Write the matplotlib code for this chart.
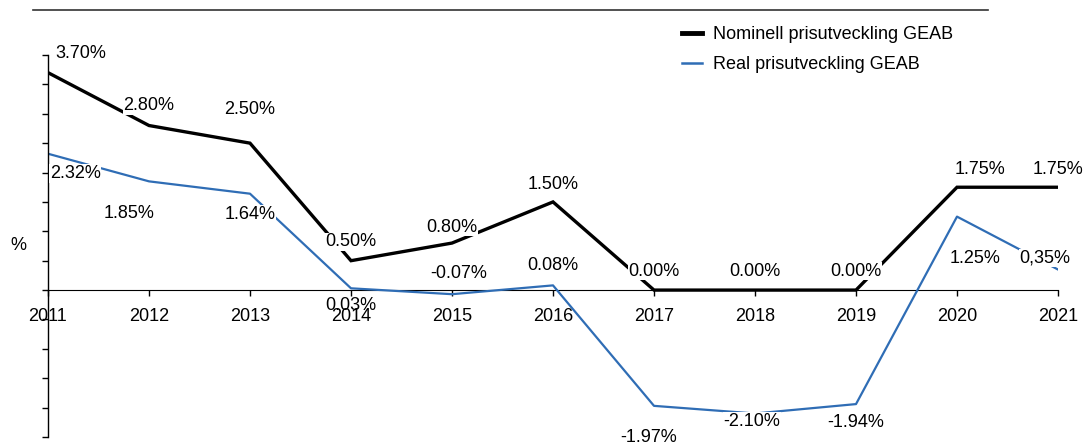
import matplotlib.pyplot as plt
from matplotlib.lines import Line2D

plt.rcParams['font.family'] = ['Liberation Sans', 'DejaVu Sans']

years = [2011, 2012, 2013, 2014, 2015, 2016, 2017, 2018, 2019, 2020, 2021]
nominal = [3.70, 2.80, 2.50, 0.50, 0.80, 1.50, 0.00, 0.00, 0.00, 1.75, 1.75]
real = [2.32, 1.85, 1.64, 0.03, -0.07, 0.08, -1.97, -2.10, -1.94, 1.25, 0.35]
nominal_labels = ["3.70%", "2.80%", "2.50%", "0.50%", "0.80%", "1.50%",
                  "0.00%", "0.00%", "0.00%", "1.75%", "1.75%"]
real_labels = ["2.32%", "1.85%", "1.64%", "0.03%", "-0.07%", "0.08%",
               "-1.97%", "-2.10%", "-1.94%", "1.25%", "0,35%"]

# label offsets in data units (dx, dy), hand placed like the Excel original
nom_off = [(0.32, 0.32), (0.0, 0.34), (0.0, 0.57), (0.0, 0.32), (0.0, 0.27),
           (0.0, 0.3), (0.0, 0.32), (0.0, 0.32), (0.0, 0.32), (0.23, 0.3), (0.0, 0.3)]
real_off = [(0.27, -0.34), (-0.2, -0.55), (0.0, -0.35), (0.0, -0.3), (0.07, 0.36),
            (0.0, 0.33), (-0.05, -0.54), (-0.03, -0.14), (0.0, -0.31), (0.18, -0.72), (-0.13, 0.2)]

blue = '#2F6DB5'
fs = 13

fig = plt.figure(figsize=(10.83, 4.42), dpi=100)
ax = fig.add_axes([48 / 1083, 1 - 437 / 442, (1058 - 48) / 1083, (437 - 55) / 442])

ax.plot(years, nominal, color='black', lw=2.4, zorder=2, solid_joinstyle='miter')
ax.plot(years, real, color=blue, lw=1.6, zorder=2)

for x, y, t, (dx, dy) in zip(years, nominal, nominal_labels, nom_off):
    ax.text(x + dx, y + dy, t, ha='center', va='center', fontsize=fs, zorder=3,
            bbox=dict(facecolor='white', edgecolor='none', pad=0.5))
for x, y, t, (dx, dy) in zip(years, real, real_labels, real_off):
    # the 0.03% label sits on top of the 2014 tick label, both stay visible
    box = None if t == "0.03%" else dict(facecolor='white', edgecolor='none', pad=0.5)
    ax.text(x + dx, y + dy, t, ha='center', va='center', fontsize=fs, zorder=3,
            clip_on=False, bbox=box)

ax.set_xlim(2011, 2021)
ax.set_ylim(-2.5, 4.0)
ax.set_xticks(years)
ax.set_xticklabels([str(y) for y in years])
ax.set_yticks([i * 0.5 for i in range(-5, 9)])
ax.set_yticklabels([])

for s in ['top', 'right']:
    ax.spines[s].set_visible(False)
ax.spines['bottom'].set_position(('data', 0))
ax.spines['bottom'].set_zorder(1)
ax.spines['left'].set_linewidth(1.0)
ax.tick_params(axis='x', direction='out', length=4, width=1.0, pad=9, labelsize=fs)
ax.tick_params(axis='y', direction='out', length=4, width=1.0)
ax.set_facecolor('none')

fig.text(18 / 1083, 1 - 245 / 442, '%', fontsize=fs, ha='center', va='center')

# rule under the cut-off title
fig.add_artist(Line2D([33 / 1083, 988 / 1083], [1 - 10 / 442, 1 - 10 / 442],
                      color='#333333', lw=1.2))

handles = [Line2D([], [], color='black', lw=3.5),
           Line2D([], [], color=blue, lw=1.8)]
fig.legend(handles, ['Nominell prisutveckling GEAB', 'Real prisutveckling GEAB'],
           loc='upper left', bbox_to_anchor=(666 / 1083, 1 - 10 / 442),
           frameon=False, fontsize=fs, handlelength=1.1, handletextpad=0.6,
           labelspacing=0.7)

fig.savefig('out.png', dpi=100)
